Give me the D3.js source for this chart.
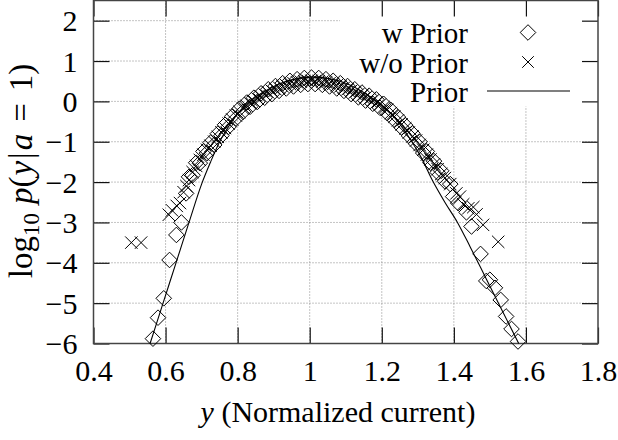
<!DOCTYPE html>
<html><head><meta charset="utf-8">
<script src="https://cdn.jsdelivr.net/npm/d3@7"></script>
<style>body{margin:0;background:#fff}svg{display:block}</style>
</head><body><svg id="c" width="618" height="440"></svg>
<script>
const xTicks=[0.4,0.6,0.8,1,1.2,1.4,1.6,1.8];
const yTicks=[-6,-5,-4,-3,-2,-1,0,1,2];
const seriesNames=["w Prior","w/o Prior","Prior"];

// w Prior (diamonds)
const wPriorX=[0.565,0.579,0.595,0.611,0.630,0.644,0.657,
0.665,0.675,0.685,0.695,0.705,0.715,0.725,0.735,0.745,0.755,0.765,0.775,0.785,0.795,0.805,0.815,0.825,0.835,
0.845,0.855,0.865,0.875,0.885,0.895,0.905,0.915,0.925,0.935,0.945,0.955,0.965,0.975,0.985,0.995,
1.005,1.015,1.025,1.035,1.045,1.055,1.065,1.075,1.085,1.095,1.105,1.115,1.125,1.135,1.145,1.155,1.165,1.175,1.185,1.195,
1.205,1.215,1.225,1.235,1.245,1.255,1.265,1.275,1.285,1.295,1.305,1.315,1.325,1.335,1.345,1.355,1.365,1.375,
1.390,1.398,1.412,1.435,1.449,1.474,1.490,1.500,1.514,1.530,1.545,1.560,1.578];
const wPriorY=[-5.88,-5.36,-4.88,-3.93,-3.31,-3.00,-2.28,
-1.87,-1.83,-1.52,-1.53,-1.24,-1.28,-1.02,-1.08,-0.80,-0.85,-0.58,-0.63,-0.37,-0.43,-0.18,-0.26,-0.03,-0.13,
0.09,-0.01,0.20,0.09,0.30,0.18,0.38,0.26,0.45,0.32,0.51,0.37,0.55,0.41,0.58,0.43,
0.59,0.43,0.58,0.41,0.55,0.37,0.51,0.32,0.45,0.26,0.38,0.18,0.30,0.10,0.22,0.02,0.14,-0.06,0.05,-0.16,
-0.06,-0.29,-0.21,-0.46,-0.39,-0.65,-0.59,-0.85,-0.79,-1.05,-1.00,-1.28,-1.24,-1.52,-1.48,-1.76,-1.72,-1.98,
-2.05,-2.36,-2.52,-2.75,-3.10,-3.78,-4.45,-4.42,-4.62,-4.92,-5.33,-5.64,-5.95];

// w/o Prior (crosses)
const woPriorX=[0.505,0.532,0.609,0.618,0.631,0.640,0.650,0.658,
0.665,0.675,0.685,0.695,0.705,0.715,0.725,0.735,0.745,0.755,0.765,0.775,0.785,0.795,0.805,0.815,0.825,0.835,
0.845,0.855,0.865,0.875,0.885,0.895,0.905,0.915,0.925,0.935,0.945,0.955,0.965,0.975,0.985,0.995,
1.005,1.015,1.025,1.035,1.045,1.055,1.065,1.075,1.085,1.095,1.105,1.115,1.125,1.135,1.145,1.155,1.165,1.175,1.185,1.195,
1.205,1.215,1.225,1.235,1.245,1.255,1.265,1.275,1.285,1.295,1.305,1.315,1.325,1.335,1.345,1.355,1.365,1.375,1.39,
1.407,1.417,1.426,1.440,1.454,1.463,1.481,1.523];
const woPriorY=[-3.5,-3.5,-2.81,-2.70,-2.59,-2.52,-2.25,-2.1,
-1.95,-1.75,-1.60,-1.45,-1.32,-1.20,-1.10,-1.00,-0.88,-0.77,-0.66,-0.55,-0.45,-0.35,-0.26,-0.18,-0.11,-0.05,
0.01,0.07,0.12,0.17,0.22,0.26,0.30,0.34,0.37,0.40,0.43,0.45,0.47,0.49,0.50,0.51,
0.51,0.51,0.50,0.49,0.47,0.45,0.43,0.40,0.37,0.34,0.30,0.26,0.22,0.18,0.14,0.10,0.06,0.02,-0.03,-0.08,
-0.14,-0.21,-0.29,-0.38,-0.47,-0.57,-0.67,-0.77,-0.87,-0.97,-1.08,-1.20,-1.32,-1.44,-1.56,-1.68,-1.80,-1.90,-2.05,
-2.28,-2.36,-2.55,-2.65,-2.62,-2.80,-3.06,-3.48];

// Prior (line)
const priorX=[0.557,0.593,0.629,0.665,0.700,0.725,0.750,0.780,0.820,0.870,0.920,0.970,1.010,1.050,1.100,1.150,1.200,1.240,1.280,1.310,1.340,1.375,1.410,1.445,1.490,1.535,1.580];
const priorY=[-6.0,-5.0,-4.0,-3.0,-2.05,-1.5,-1.0,-0.55,-0.1,0.22,0.45,0.57,0.6,0.57,0.45,0.22,-0.1,-0.45,-0.95,-1.4,-1.95,-2.5,-3.0,-3.6,-4.4,-5.2,-6.0];

const L=93.5,R=598,T=0.5,B=343.5;
const svg=d3.select('#c');
const x=d3.scaleLinear().domain([0.4,1.8]).range([L,R]);
const y=d3.scaleLinear().domain([-6,2.5]).range([B,T]);
const FONT='"Liberation Serif","Times New Roman",serif';
const fmt=d=>String(d).replace('-','\u2212');

// grid
const grid=svg.append('g').attr('stroke','#888').attr('stroke-width',1).attr('stroke-dasharray','1,2');
grid.selectAll('.gx').data(xTicks.slice(1,-1)).join('line')
  .attr('x1',d=>x(d)).attr('x2',d=>x(d)).attr('y1',T).attr('y2',B);
grid.selectAll('.gy').data(yTicks.slice(1)).join('line')
  .attr('x1',L).attr('x2',R).attr('y1',d=>y(d)).attr('y2',d=>y(d));

// legend background (opaque)
svg.append('rect').attr('x',340).attr('y',T+1).attr('width',R-341).attr('height',105).attr('fill','#fff');

// axes (ticks inward, mirrored)
const tk=16;
const gB=svg.append('g').attr('transform',`translate(0,${B})`)
  .call(d3.axisBottom(x).tickValues(xTicks).tickSize(-tk).tickPadding(16).tickFormat(fmt));
const gL=svg.append('g').attr('transform',`translate(${L},0)`)
  .call(d3.axisLeft(y).tickValues(yTicks).tickSize(-tk).tickPadding(16).tickFormat(fmt));
const gT=svg.append('g').attr('transform',`translate(0,${T})`)
  .call(d3.axisTop(x).tickValues(xTicks).tickSize(-tk).tickFormat(''));
const gR=svg.append('g').attr('transform',`translate(${R},0)`)
  .call(d3.axisRight(y).tickValues(yTicks).tickSize(-tk).tickFormat(''));
[gB,gL,gT,gR].forEach(g=>{
  g.select('.domain').remove();
  g.selectAll('line').attr('stroke','#111').attr('stroke-width',1.2);
  g.selectAll('text').attr('font-family',FONT).attr('font-size',30).attr('fill','#000');
});
gL.selectAll('text').attr('dy','0.34em');

// frame
svg.append('rect').attr('x',L).attr('y',T).attr('width',R-L).attr('height',B-T)
  .attr('fill','none').attr('stroke','#444').attr('stroke-width',1.5);

// markers
const dR=7.8, cR=6.2;
const diamond=r=>`M0,${-r}L${r},0L0,${r}L${-r},0Z`;
const cross=r=>`M${-r},${-r}L${r},${r}M${-r},${r}L${r},${-r}`;

const wData=wPriorX.map((v,i)=>({x:v,y:wPriorY[i]}));
const woData=woPriorX.map((v,i)=>({x:v,y:woPriorY[i]}));
const prData=priorX.map((v,i)=>({x:v,y:priorY[i]}));

svg.append('g').selectAll('path').data(wData).join('path')
  .attr('d',diamond(dR)).attr('transform',d=>`translate(${x(d.x)},${y(d.y)})`)
  .attr('fill','none').attr('stroke','#000').attr('stroke-width',1);
svg.append('g').selectAll('path').data(woData).join('path')
  .attr('d',cross(cR)).attr('transform',d=>`translate(${x(d.x)},${y(d.y)})`)
  .attr('fill','none').attr('stroke','#000').attr('stroke-width',1);
svg.append('path').datum(prData)
  .attr('d',d3.line().x(d=>x(d.x)).y(d=>y(d.y)).curve(d3.curveMonotoneX))
  .attr('fill','none').attr('stroke','#000').attr('stroke-width',1.1);

// legend
const lg=svg.append('g').attr('font-family',FONT).attr('font-size',29).attr('fill','#000');
const rowsY=[32.5,62,91];
seriesNames.forEach((n,i)=>{
  lg.append('text').attr('x',468).attr('y',rowsY[i]+10.5).attr('text-anchor','end').text(n);
});
lg.append('path').attr('d',diamond(dR)).attr('transform',`translate(528,${rowsY[0]})`).attr('fill','none').attr('stroke','#000');
lg.append('path').attr('d',cross(5.8)).attr('transform',`translate(528,${rowsY[1]})`).attr('fill','none').attr('stroke','#000');
lg.append('line').attr('x1',487).attr('x2',570).attr('y1',rowsY[2]).attr('y2',rowsY[2]).attr('stroke','#000').attr('stroke-width',1.1);

// axis titles
const xt=svg.append('text').attr('x',338).attr('y',422).attr('text-anchor','middle')
  .attr('font-family',FONT).attr('font-size',30).attr('fill','#000');
xt.append('tspan').attr('font-style','italic').text('y');
xt.append('tspan').text(' (Normalized current)');

const yt=svg.append('text').attr('transform','translate(32,171) rotate(-90)').attr('text-anchor','middle')
  .attr('font-family',FONT).attr('font-size',33).attr('fill','#000');
yt.append('tspan').text('log');
yt.append('tspan').attr('font-size',23).attr('dy',7).text('10');
yt.append('tspan').attr('dy',-7).attr('dx',9).attr('font-style','italic').text('p');
yt.append('tspan').text('(');
yt.append('tspan').attr('dx',1).attr('font-style','italic').text('y');
yt.append('tspan').attr('dx',2).text('|');
yt.append('tspan').attr('dx',2).attr('font-style','italic').text('a');
yt.append('tspan').attr('dx',12).text('=');
yt.append('tspan').attr('dx',12).text('1)');
</script></body></html>
